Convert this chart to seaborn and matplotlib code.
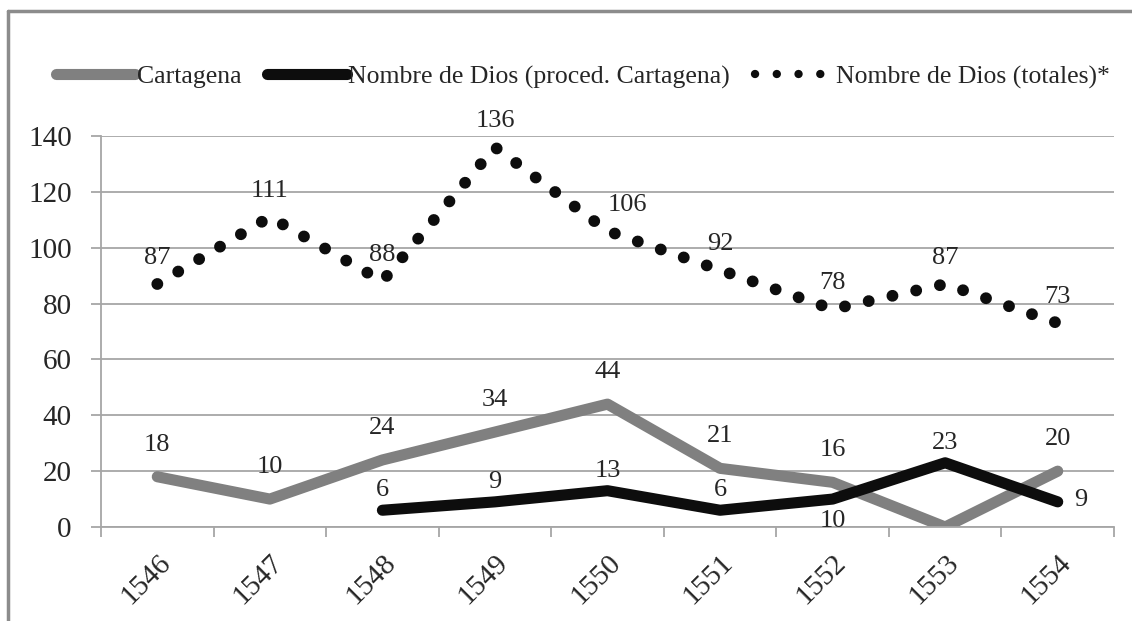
import matplotlib
matplotlib.use('Agg')
import matplotlib.pyplot as plt
import matplotlib.transforms as mtransforms
from matplotlib.lines import Line2D
import seaborn as sns
import pandas as pd
import numpy as np

sns.set_style('white')
plt.rcParams['font.family'] = ['Liberation Serif', 'DejaVu Serif']

# datos
years = ['1546', '1547', '1548', '1549', '1550', '1551', '1552', '1553', '1554']
cartagena = [18, 10, 24, 34, 44, 21, 16, 0, 20]
nd_cartagena = [np.nan, np.nan, 6, 9, 13, 6, 10, 23, 9]
nd_totales = [87, 111, 88, 136, 106, 92, 78, 87, 73]

series_names = ['Cartagena', 'Nombre de Dios (proced. Cartagena)', 'Nombre de Dios (totales)*']

idx = np.arange(len(years))
df = pd.DataFrame({'pos': idx, 'cart': cartagena, 'ndc': nd_cartagena, 'ndt': nd_totales})

fig = plt.figure(figsize=(11.32, 6.21), dpi=100)
ax = fig.add_axes([101 / 1132, 1 - 527 / 621, (1114 - 101) / 1132, (527 - 136) / 621])

grid_c = '#a6a6a6'
gray = '#808080'
black = '#0d0d0d'

sns.lineplot(data=df, x='pos', y='ndt', ax=ax, color=black, lw=8.5,
             linestyle=(0, (0.01, 2.05)), dash_capstyle='round', label=series_names[2])
sns.lineplot(data=df, x='pos', y='cart', ax=ax, color=gray, lw=8,
             solid_capstyle='round', solid_joinstyle='round', label=series_names[0])
sns.lineplot(data=df.dropna(subset=['ndc']), x='pos', y='ndc', ax=ax, color=black, lw=8,
             solid_capstyle='round', solid_joinstyle='round', label=series_names[1])
ax.get_legend().remove()

ax.set_xlim(-0.5, len(years) - 0.5)
ax.set_ylim(0, 140)
ax.set_yticks(range(0, 141, 20))
ax.yaxis.grid(True, color=grid_c, lw=1.3)
ax.set_axisbelow(True)
for s in ['top', 'right']:
    ax.spines[s].set_visible(False)
for s in ['left', 'bottom']:
    ax.spines[s].set_color(grid_c)
    ax.spines[s].set_linewidth(1.3)

ax.set_xticks(np.arange(-0.5, len(years), 1.0))
ax.set_xticklabels([])
ax.set_xticks(idx, minor=True)
ax.set_xticklabels(years, minor=True, rotation=45, ha='right', va='top',
                   rotation_mode='anchor', fontsize=21)
shift = mtransforms.ScaledTranslation(6 / 100, 0, fig.dpi_scale_trans)
for lab in ax.get_xticklabels(minor=True):
    lab.set_transform(lab.get_transform() + shift)
ax.tick_params(axis='x', which='major', direction='out', length=7, width=1.3, color=grid_c, bottom=True)
ax.tick_params(axis='x', which='minor', length=0, pad=16)
ax.tick_params(axis='y', length=7, width=1.3, color=grid_c, labelsize=21, pad=14, left=True, direction='out')
ax.set_xlabel('')
ax.set_ylabel('')

# etiquetas de datos
lab_fs = 19
for i, v in enumerate(nd_totales):
    dx = 20 if years[i] == '1550' else 0
    ax.annotate(str(v), (i, v), xytext=(dx, 26), textcoords='offset pixels',
                ha='center', va='center', fontsize=lab_fs)
for i, v in enumerate(cartagena):
    if v == 0:
        continue
    ax.annotate(str(v), (i, v), xytext=(0, 32), textcoords='offset pixels',
                ha='center', va='center', fontsize=lab_fs)
for i, v in enumerate(nd_cartagena):
    if np.isnan(v):
        continue
    if i == len(years) - 1:
        off, ha = (16, 2), 'left'
    elif years[i] == '1552':
        off, ha = (0, -22), 'center'
    else:
        off, ha = (0, 20), 'center'
    ax.annotate(str(int(v)), (i, v), xytext=off, textcoords='offset pixels',
                ha=ha, va='center', fontsize=lab_fs)

handles = [
    Line2D([], [], color=gray, lw=8, solid_capstyle='round'),
    Line2D([], [], color=black, lw=8, solid_capstyle='round'),
    Line2D([], [], color=black, lw=6, linestyle=(0, (0.01, 2.6)), dash_capstyle='round'),
]
fig.legend(handles, series_names, loc='center', bbox_to_anchor=(0.515, 1 - 77 / 621),
           ncol=3, frameon=False, fontsize=18.5, handlelength=3.1, handletextpad=0.05,
           columnspacing=1.0)

# marco exterior
border = '#8c8c8c'
fig.add_artist(Line2D([8 / 1132, 1], [1 - 11 / 621, 1 - 11 / 621], color=border, lw=2.5,
                      transform=fig.transFigure))
fig.add_artist(Line2D([8 / 1132, 8 / 1132], [0, 1 - 11 / 621], color=border, lw=2.5,
                      transform=fig.transFigure))

fig.savefig('out.png', dpi=100)
